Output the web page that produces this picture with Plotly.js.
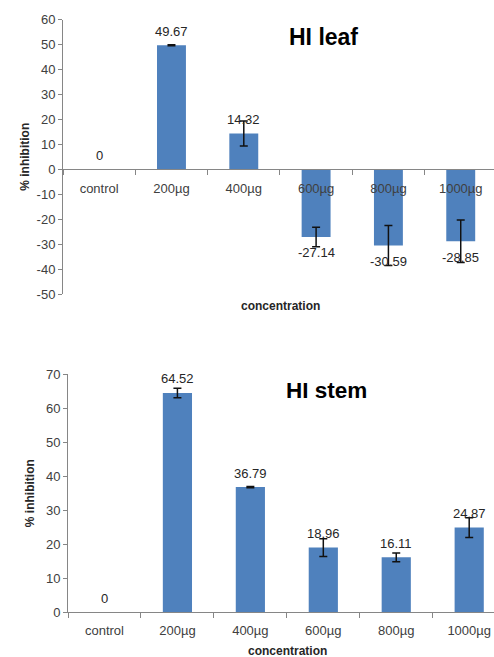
<!DOCTYPE html>
<html>
<head>
<meta charset="utf-8">
<script src="https://cdn.plot.ly/plotly-3.0.1.min.js"></script>
<style>html,body{margin:0;padding:0;background:#fff;}#chart{width:494px;height:657px;}</style>
</head>
<body>
<div id="chart"></div>
<script>
const categories = ['control', '200µg', '400µg', '600µg', '800µg', '1000µg'];
const leafValues = [0, 49.67, 14.32, -27.14, -30.59, -28.85];
const leafErrors = [NaN, 0.2, 5.0, 3.9, 8.0, 8.5];
const stemValues = [0, 64.52, 36.79, 18.96, 16.11, 24.87];
const stemErrors = [NaN, 1.4, 0.2, 2.6, 1.3, 2.9];
const leafTicks = [-50, -40, -30, -20, -10, 0, 10, 20, 30, 40, 50, 60];
const stemTicks = [0, 10, 20, 30, 40, 50, 60, 70];
const leafTitle = 'HI leaf';
const stemTitle = 'HI stem';
const yTitle = '% inhibition';
const xTitle = 'concentration';

const FONT = 'Liberation Sans, Arial, sans-serif';
const BAR = '#4F81BD';
const AXIS = '#868686';
const TICKTXT = '#404040';
const LABEL = '#262626';

const W = 494, H = 657;
const px = v => v / W;
const py = v => 1 - v / H;

const errStyle = {type: 'data', visible: true, color: '#111', thickness: 1.5, width: 4};

const traces = [
  {type: 'bar', x: categories, y: leafValues, xaxis: 'x', yaxis: 'y',
   marker: {color: BAR}, error_y: Object.assign({array: leafErrors}, errStyle), hoverinfo: 'none'},
  {type: 'bar', x: categories, y: stemValues, xaxis: 'x2', yaxis: 'y2',
   marker: {color: BAR}, error_y: Object.assign({array: stemErrors}, errStyle), hoverinfo: 'none'}
];

const topDom = [py(294), py(19.5)];
const botDom = [py(612), py(374.3)];
const zeroPos = topDom[0] + (topDom[1] - topDom[0]) * 50 / 110;

const tickFont = {family: FONT, size: 13, color: TICKTXT};
const titleFont = {family: FONT, size: 12, color: '#262626', weight: 'bold'};

const annotations = [];
function addLabels(vals, xr, yr) {
  vals.forEach((v, i) => {
    annotations.push({x: categories[i], y: v, xref: xr, yref: yr, text: v === 0 ? '0' : v.toFixed(2),
      showarrow: false, xanchor: 'center', yanchor: 'middle', yshift: v >= 0 ? 14 : -16,
      font: {family: FONT, size: 13, color: LABEL}});
  });
}
addLabels(leafValues, 'x', 'y');
addLabels(stemValues, 'x2', 'y2');
function paperText(x, y, text, font) {
  annotations.push({xref: 'paper', yref: 'paper', x: px(x), y: py(y), text: text, showarrow: false,
    xanchor: 'center', yanchor: 'middle', font: font});
}
paperText(323, 37, leafTitle, {family: FONT, size: 23, color: '#000', weight: 'bold'});
paperText(326, 390, stemTitle, {family: FONT, size: 22.5, color: '#000', weight: 'bold'});
paperText(280, 306, xTitle, titleFont);
paperText(287, 651, xTitle, titleFont);

const xCommon = {type: 'category', showline: true, linecolor: AXIS, linewidth: 1, ticks: 'outside',
  tickson: 'boundaries', ticklen: 5, tickcolor: AXIS, tickfont: tickFont, showgrid: false, zeroline: false,
  automargin: false, fixedrange: true};
const yCommon = {showline: true, linecolor: AXIS, linewidth: 1, ticks: 'outside', ticklen: 4, tickcolor: AXIS,
  tickfont: tickFont, showgrid: false, zeroline: false, tickmode: 'array', automargin: false, fixedrange: true};

const layout = {
  width: W, height: H, margin: {l: 0, r: 0, t: 0, b: 0}, showlegend: false,
  paper_bgcolor: '#fff', plot_bgcolor: 'rgba(0,0,0,0)', bargap: 0.6,
  font: {family: FONT},
  xaxis: Object.assign({}, xCommon, {domain: [px(63), 1], anchor: 'free', position: zeroPos, range: [-0.5, 5.46],
    ticklabelstandoff: 7}),
  yaxis: Object.assign({}, yCommon, {domain: topDom, anchor: 'x', range: [-50, 60],
    tickvals: leafTicks, ticktext: leafTicks.map(String),
    title: {text: yTitle, font: titleFont}}),
  xaxis2: Object.assign({}, xCommon, {domain: [px(68), 1], anchor: 'y2', range: [-0.5, 5.34], ticklabelstandoff: 6}),
  yaxis2: Object.assign({}, yCommon, {domain: botDom, anchor: 'x2', range: [0, 70],
    tickvals: stemTicks, ticktext: stemTicks.map(String),
    title: {text: yTitle, font: titleFont}}),
  annotations: annotations
};

Plotly.newPlot('chart', traces, layout, {staticPlot: true});
</script>
</body>
</html>
